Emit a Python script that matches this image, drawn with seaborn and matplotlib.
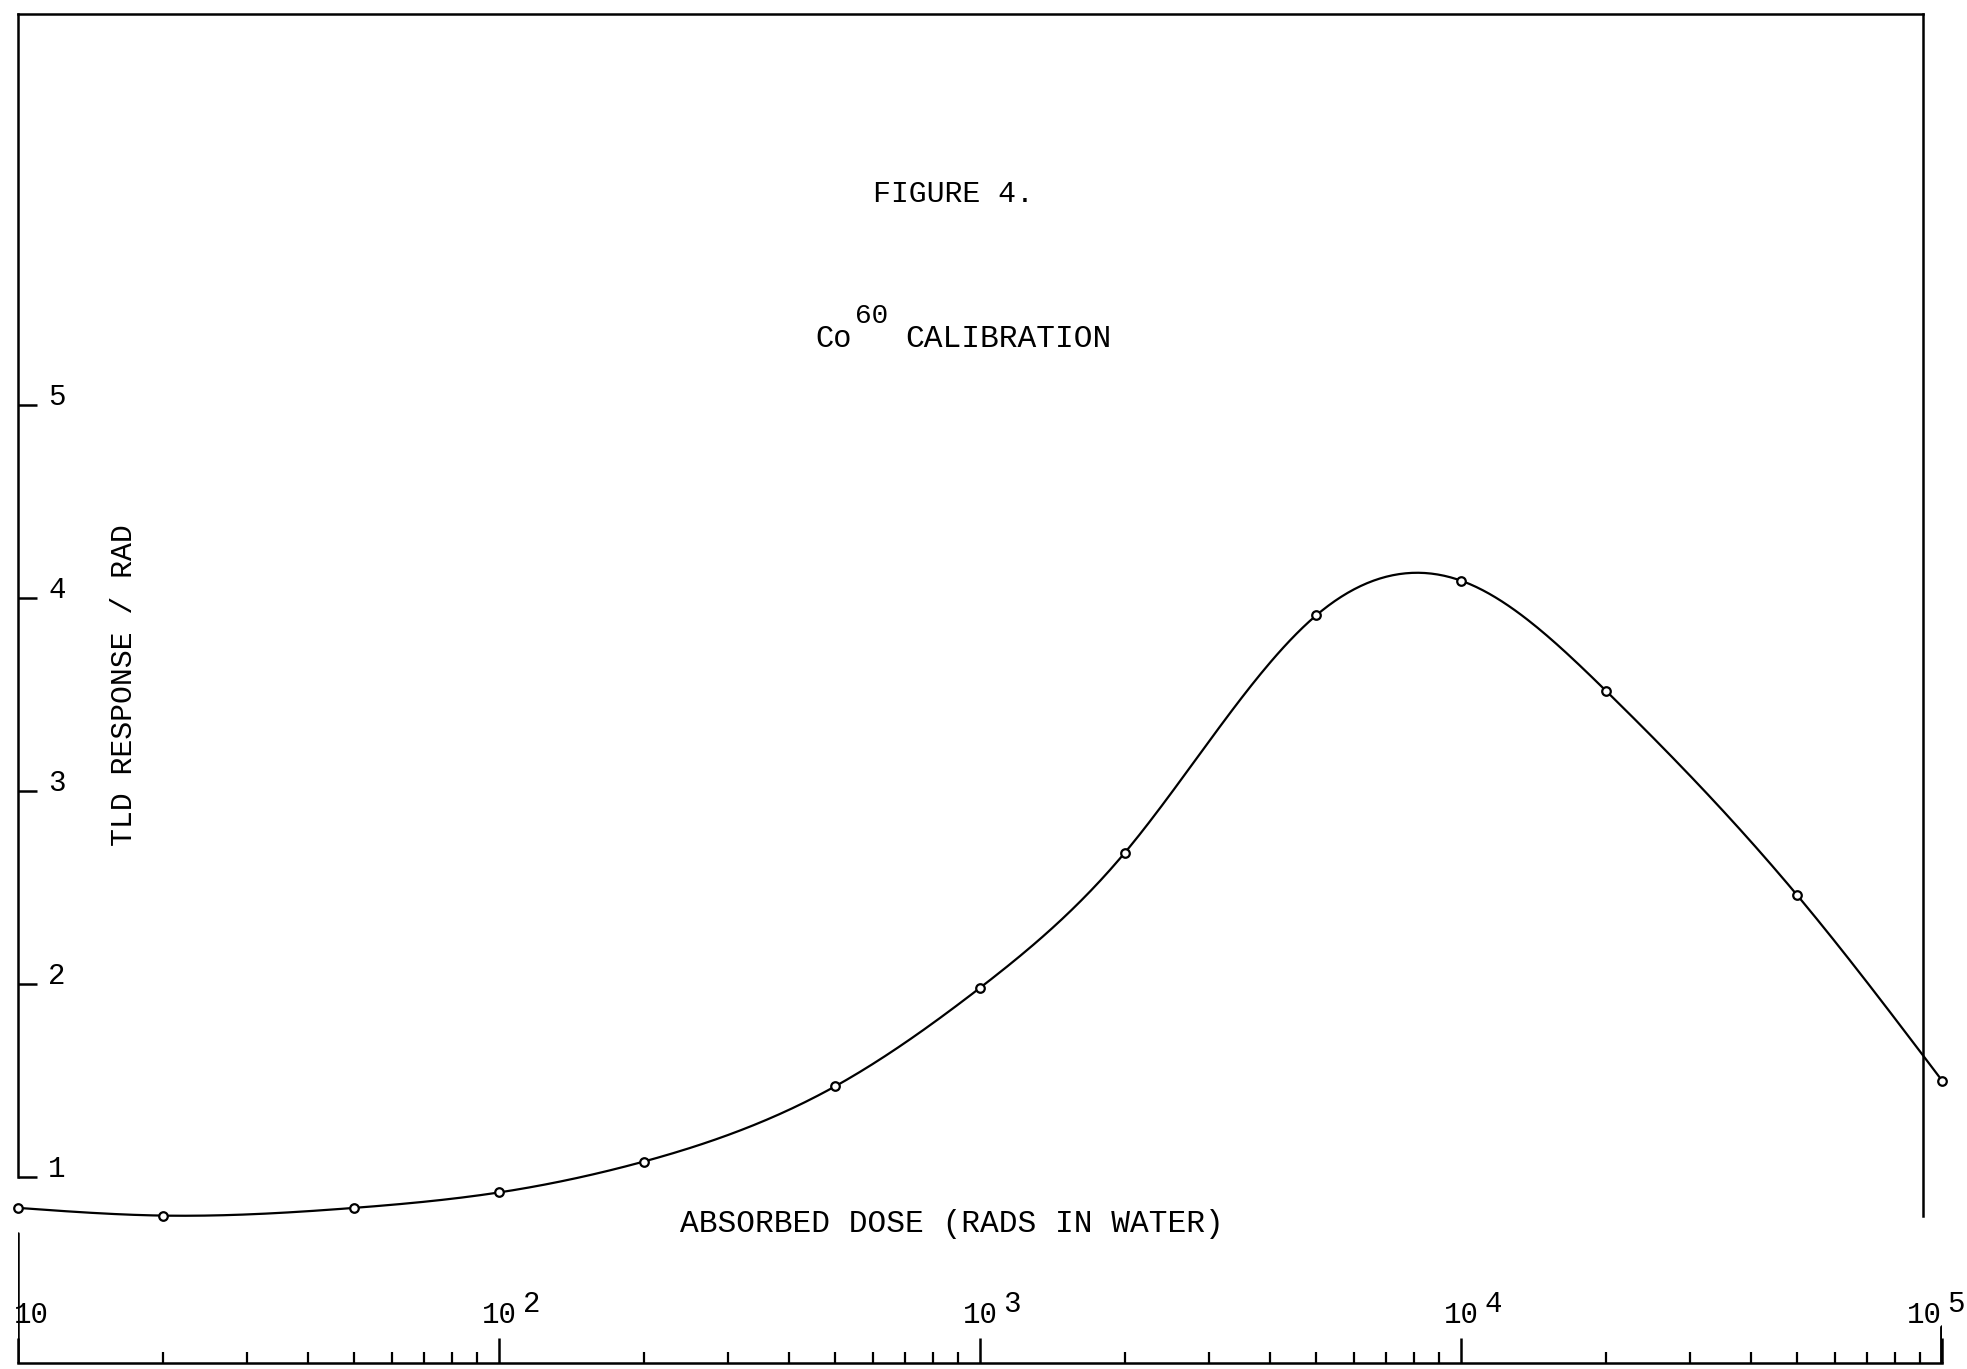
"""
Co-60 calibration curve of a TLD (Figure 4), redrawn from a typed report page.
"""

import numpy as np
import matplotlib
matplotlib.use("Agg")
import matplotlib.pyplot as plt
from matplotlib.ticker import LogLocator, NullLocator
import seaborn as sns

# ── Data ──────────────────────────────────────
DOSE     = [10, 20, 50, 100, 200, 500, 1000, 2000, 5000, 10000, 20000, 50000, 100000]
RESPONSE = [0.84, 0.80, 0.84, 0.92, 1.08, 1.47, 1.98, 2.68, 3.91, 4.09, 3.52, 2.46, 1.50]

Y_TICKS       = [1, 2, 3, 4, 5]
X_DECADES     = [10, 100, 1000, 10000, 100000]
X_DECADE_BASE = ["10", "10", "10", "10", "10"]
X_DECADE_EXP  = ["", "2", "3", "4", "5"]

TITLE    = "FIGURE 4."
ISOTOPE  = ("Co", "60")
SUBTITLE = "CALIBRATION"
YLABEL   = "TLD RESPONSE / RAD"
XLABEL   = "ABSORBED DOSE (RADS IN WATER)"

# ── Config ────────────────────────────────────
W, H = 1967, 1369
INK = "black"


def px(x, y):
    """pixel position (from top-left) -> figure fraction"""
    return x / W, 1 - y / H


def smooth_curve(x, y, n=600):
    """Natural cubic spline through the points, in log10(x)."""
    lx = np.log10(np.asarray(x, float))
    y = np.asarray(y, float)
    k = len(lx)
    h = np.diff(lx)
    A = np.zeros((k, k))
    rhs = np.zeros(k)
    A[0, 0] = A[-1, -1] = 1
    for i in range(1, k - 1):
        A[i, i - 1] = h[i - 1]
        A[i, i] = 2 * (h[i - 1] + h[i])
        A[i, i + 1] = h[i]
        rhs[i] = 6 * ((y[i + 1] - y[i]) / h[i] - (y[i] - y[i - 1]) / h[i - 1])
    M = np.linalg.solve(A, rhs)

    t = np.linspace(lx[0], lx[-1], n)
    idx = np.clip(np.searchsorted(lx, t) - 1, 0, k - 2)
    x0, x1 = lx[idx], lx[idx + 1]
    hh = x1 - x0
    s = (M[idx] * (x1 - t) ** 3 / (6 * hh) + M[idx + 1] * (t - x0) ** 3 / (6 * hh)
         + (y[idx] / hh - M[idx] * hh / 6) * (x1 - t)
         + (y[idx + 1] / hh - M[idx + 1] * hh / 6) * (t - x0))
    return 10 ** t, s


sns.set_theme(style="white")
plt.rcParams["font.family"] = ["Liberation Mono", "DejaVu Sans Mono"]
plt.rcParams["text.color"] = INK

fig = plt.figure(figsize=(W / 100, H / 100), dpi=100)
fig.patch.set_facecolor("white")

# axes placed so that 10 -> x=18px, 1e5 -> x=1942px, y=1 -> 1177px, y=5 -> 405px
AX_BOTTOM = 1363
px_per_unit = (1177 - 405) / 4
y_lo = 1 - (AX_BOTTOM - 1177) / px_per_unit
y_hi = 1 + (1177 - 14) / px_per_unit
ax_h = AX_BOTTOM - 14
ax = fig.add_axes([18 / W, (H - AX_BOTTOM) / H, (1942 - 18) / W, ax_h / H])
ax.set_facecolor("white")

# ── Curve + points ────────────────────────────
cx, cy = smooth_curve(DOSE, RESPONSE)
sns.lineplot(x=cx, y=cy, ax=ax, color=INK, lw=1.6, sort=False, estimator=None)
sns.scatterplot(x=DOSE, y=RESPONSE, ax=ax, marker="o", s=38, facecolor="white",
                edgecolor=INK, linewidth=1.6, zorder=3, clip_on=False)

ax.set_xscale("log")
ax.set_xlim(10, 1e5)
ax.set_ylim(y_lo, y_hi)
ax.set_xlabel("")
ax.set_ylabel("")

# ── Ticks ─────────────────────────────────────
ax.xaxis.set_major_locator(LogLocator(base=10))
ax.xaxis.set_minor_locator(LogLocator(base=10, subs=range(2, 10)))
ax.tick_params(axis="x", which="major", bottom=True, direction="in",
               length=18, width=1.8, color=INK, labelbottom=False)
ax.tick_params(axis="x", which="minor", bottom=True, direction="in",
               length=8, width=1.6, color=INK)

ax.set_yticks(Y_TICKS)
ax.yaxis.set_minor_locator(NullLocator())
ax.tick_params(axis="y", left=True, direction="in", length=14, width=1.8,
               color=INK, labelleft=False)

# response labels sit inside the frame, just right of and above each tick
yt = ax.get_yaxis_transform()
for v in Y_TICKS:
    ax.annotate(str(v), xy=(0, v), xycoords=yt, xytext=(21.6, 0),
                textcoords="offset points", ha="left", va="baseline",
                fontsize=21, color=INK)

# decade labels sit above the axis line: "10" plus a raised, full-size exponent
base_frac = (AX_BOTTOM - 1323) / ax_h
xt = ax.get_xaxis_transform()
for i, (xv, base, exp) in enumerate(zip(X_DECADES, X_DECADE_BASE, X_DECADE_EXP)):
    if i == 0:
        ha, bdx, edx = "left", -3, 0
    elif i == len(X_DECADES) - 1:
        ha, bdx, edx = "right", 0, 3.6
    else:
        ha, bdx, edx = "center", 0, 17
    ax.annotate(base, xy=(xv, base_frac), xycoords=xt, xytext=(bdx, 0),
                textcoords="offset points", ha=ha, va="baseline",
                fontsize=21, color=INK, annotation_clip=False)
    if exp:
        ax.annotate(exp, xy=(xv, base_frac), xycoords=xt, xytext=(edx, 8),
                    textcoords="offset points", ha="left", va="baseline",
                    fontsize=21, color=INK, annotation_clip=False)

# ── Frame ─────────────────────────────────────
for side in ["left", "right", "top", "bottom"]:
    ax.spines[side].set_visible(True)
    ax.spines[side].set_color(INK)
    ax.spines[side].set_linewidth(1.8)
ax.spines["left"].set_bounds(1, y_hi)
ax.spines["right"].set_position(("axes", 0.99))
ax.spines["right"].set_bounds(0.80, y_hi)
ax.spines["top"].set_bounds(10, 10 ** (1 + 4 * 0.99))

# long end marks of the dose scale
ax.axvline(10, ymin=0, ymax=(AX_BOTTOM - 1233) / ax_h, color=INK, lw=1.8)
ax.axvline(1e5, ymin=0, ymax=(AX_BOTTOM - 1327) / ax_h, color=INK, lw=3.5)

# ── Text ──────────────────────────────────────
fig.text(*px(953, 202), TITLE, ha="center", va="baseline", fontsize=21.5)
fig.text(*px(815, 347), ISOTOPE[0], ha="left", va="baseline", fontsize=22)
fig.text(*px(855, 323), ISOTOPE[1], ha="left", va="baseline", fontsize=20)
fig.text(*px(905, 347), SUBTITLE, ha="left", va="baseline", fontsize=22.5)
fig.text(*px(124, 685), YLABEL, rotation=90, ha="center", va="center", fontsize=21.5)
fig.text(*px(952, 1232), XLABEL, ha="center", va="baseline", fontsize=22.5)

fig.savefig("out.png", dpi=100, facecolor="white")
